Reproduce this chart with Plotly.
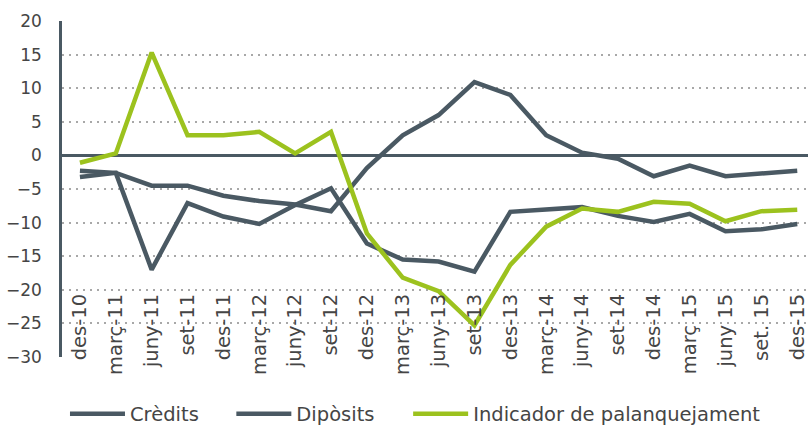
import plotly.graph_objects as go

categories = ["des-10", "març-11", "juny-11", "set-11", "des-11", "març-12", "juny-12",
              "set-12", "des-12", "març-13", "juny-13", "set-13", "des-13", "març-14",
              "juny-14", "set-14", "des-14", "març 15", "juny 15", "set. 15", "des-15"]

credits = [-3.2, -2.6, -17.0, -7.1, -9.1, -10.2, -7.4, -4.9, -13.1, -15.5, -15.8, -17.3,
           -8.4, -8.1, -7.7, -9.0, -9.9, -8.7, -11.3, -11.0, -10.2]
deposits = [-2.3, -2.6, -4.5, -4.5, -6.0, -6.8, -7.3, -8.3, -1.9, 3.0, 6.0, 10.9,
            9.0, 3.0, 0.4, -0.5, -3.1, -1.5, -3.1, -2.7, -2.3]
leverage = [-1.1, 0.3, 15.3, 3.0, 3.0, 3.5, 0.3, 3.5, -11.6, -18.2, -20.2, -25.3,
            -16.3, -10.6, -7.9, -8.4, -6.9, -7.2, -9.8, -8.3, -8.1]

y_ticks = [-30, -25, -20, -15, -10, -5, 0, 5, 10, 15, 20]

DARK = "#4a5963"
GREEN = "#9cc21e"
TEXT = "#454545"
FONT = "DejaVu Sans"

x = list(range(len(categories)))

fig = go.Figure()
fig.add_trace(go.Scatter(x=x, y=credits, name="Crèdits", mode="lines",
                         line=dict(color=DARK, width=4.5), legend="legend"))
fig.add_trace(go.Scatter(x=x, y=deposits, name="Dipòsits", mode="lines",
                         line=dict(color=DARK, width=4.5), legend="legend2"))
fig.add_trace(go.Scatter(x=x, y=leverage, name="Indicador de palanquejament", mode="lines",
                         line=dict(color=GREEN, width=4.5), legend="legend3"))

leg_common = dict(orientation="h", xanchor="left", y=-0.17, yanchor="middle",
                  font=dict(size=19.5, color=TEXT, family=FONT), itemwidth=55,
                  bgcolor="rgba(0,0,0,0)")

fig.update_layout(
    width=811, height=429,
    margin=dict(l=62, r=3, t=21, b=72, autoexpand=False),
    paper_bgcolor="white", plot_bgcolor="white",
    font=dict(family=FONT, color=TEXT, size=18),
    showlegend=True,
    legend=dict(x=0.004, **leg_common),
    legend2=dict(x=0.227, **leg_common),
    legend3=dict(x=0.464, **leg_common),
    xaxis=dict(
        range=[-0.5, 20.3],
        tickvals=x, ticktext=categories,
        tickangle=-90,
        showgrid=False, zeroline=False, showline=False,
        ticks="", anchor="free", position=0.2024, automargin=False,
        tickfont=dict(size=19.5, color=TEXT, family=FONT),
    ),
    yaxis=dict(
        range=[-30, 20],
        tickvals=y_ticks,
        showgrid=True, gridcolor="#a8a8a8", griddash="1.5px,5.5px", gridwidth=1.5,
        zeroline=True, zerolinecolor=DARK, zerolinewidth=2.5,
        showline=True, linecolor=DARK, linewidth=2.5,
        ticks="", ticklabelstandoff=14, automargin=False,
        tickfont=dict(size=17, color=TEXT, family=FONT),
    ),
)

fig.write_html("out.html", config={"displayModeBar": False},
               post_script="document.body.style.margin='0';")
